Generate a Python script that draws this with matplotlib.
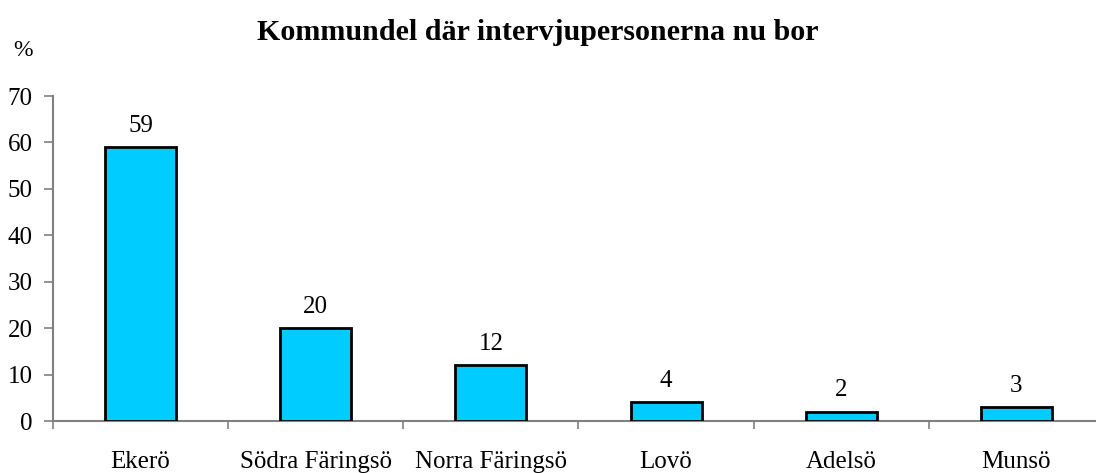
import numpy as np
import matplotlib
matplotlib.use('Agg')
import matplotlib.pyplot as plt

plt.rcParams['font.family'] = ['Liberation Serif', 'DejaVu Serif']

kommundelar = ['Ekerö', 'Södra Färingsö', 'Norra Färingsö', 'Lovö', 'Adelsö', 'Munsö']
andel = [59, 20, 12, 4, 2, 3]
yticks = [0, 10, 20, 30, 40, 50, 60, 70]

W, H = 1096, 473
fig = plt.figure(figsize=(W/100, H/100), dpi=100)
ax = fig.add_axes([53/W, 1-421/H, (1104-53)/W, (421-96)/H])

x = np.arange(len(kommundelar))
ax.bar(x, andel, width=0.406, color='#00CCFF', edgecolor='black', linewidth=2, zorder=3)

for xi, v in zip(x, andel):
    ax.annotate(str(v), (xi, v), xytext=(0, 11), textcoords='offset points',
                ha='center', va='baseline', fontsize=18)

ax.set_xlim(-0.5, len(kommundelar) - 0.5)
ax.set_ylim(0, 70)
ax.set_yticks(yticks)
ax.set_yticklabels([str(t) for t in yticks], fontsize=18)

# ticks between categories, labels in the middle
ax.set_xticks(np.arange(len(kommundelar) + 1) - 0.5)
ax.set_xticklabels([])
ax.set_xticks(x, minor=True)
ax.set_xticklabels(kommundelar, minor=True, fontsize=18)
ax.tick_params(axis='x', which='minor', length=0, pad=21.5)
ax.tick_params(axis='x', which='major', direction='out', length=6, width=1.2, color='#808080')
ax.tick_params(axis='y', direction='out', length=6.5, width=1.2, color='#808080', pad=8)

for s in ['top', 'right']:
    ax.spines[s].set_visible(False)
for s in ['left', 'bottom']:
    ax.spines[s].set_color('#808080')
    ax.spines[s].set_linewidth(1.5)

fig.text(538/W, 1-33/H, 'Kommundel där intervjupersonerna nu bor', ha='center', va='center',
         fontsize=21.6, fontweight='bold')
fig.text(23/W, 1-51/H, '%', ha='center', va='center', fontsize=17)

fig.savefig('out.png', dpi=100)
